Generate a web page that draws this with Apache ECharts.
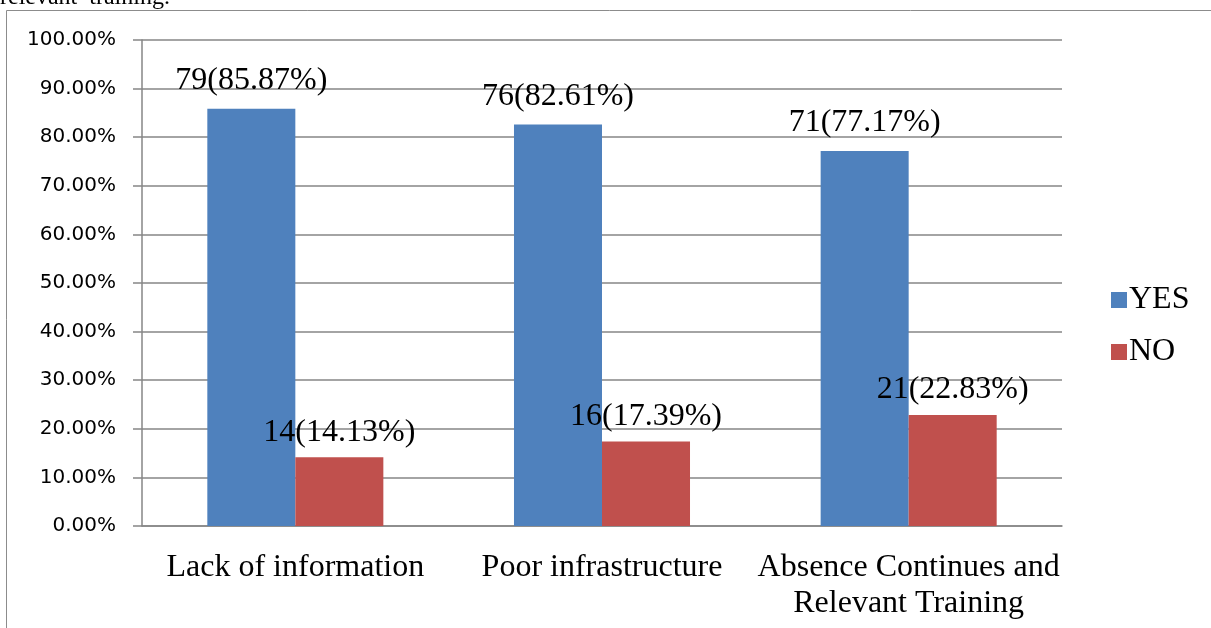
<!DOCTYPE html>
<html>
<head>
<meta charset="utf-8">
<script src="https://cdn.jsdelivr.net/npm/echarts@6/dist/echarts.min.js"></script>
<style>html,body{margin:0;padding:0;background:#fff;}#c{width:1211px;height:628px;}</style>
</head>
<body>
<div id="c"></div>
<script>
var categories = ['Lack of information', 'Poor infrastructure', 'Absence Continues and\nRelevant Training'];
var yesPct = [85.87, 82.61, 77.17];
var noPct = [14.13, 17.39, 22.83];
var yesCount = [79, 76, 71];
var noCount = [14, 16, 21];
var seriesNames = ['YES', 'NO'];

var chart = echarts.init(document.getElementById('c'), null, {renderer: 'canvas'});
var serif = '"Liberation Serif", "Times New Roman", serif';
var sans = '"DejaVu Sans", "Liberation Sans", sans-serif';
chart.setOption({
  animation: false,
  backgroundColor: '#fff',
  graphic: [
    {type: 'rect', shape: {x: 6.5, y: 10.5, width: 1220, height: 640}, style: {fill: 'none', stroke: '#8c8c8c', lineWidth: 1}},
    {type: 'text', left: 0, top: -14, style: {text: 'relevant  training.', font: '24px ' + serif, fill: '#000'}}
  ],
  grid: {left: 142, right: 149, top: 40, bottom: 102},
  legend: {
    orient: 'vertical', left: 1106, top: 279, itemWidth: 16, itemHeight: 16, itemGap: 20,
    icon: 'rect',
    textStyle: {fontFamily: serif, fontSize: 32, color: '#000', padding: [0, 0, 0, -3]},
    data: seriesNames
  },
  xAxis: {
    type: 'category', data: categories,
    axisLine: {lineStyle: {color: '#868686', width: 1.5}},
    axisTick: {length: 10, lineStyle: {color: '#868686', width: 1.5}},
    axisLabel: {fontFamily: serif, fontSize: 32, color: '#000', margin: 24, lineHeight: 36, interval: 0}
  },
  yAxis: {
    type: 'value', min: 0, max: 100, interval: 10,
    axisLine: {show: true, lineStyle: {color: '#868686', width: 1.5}},
    axisTick: {show: true, length: 9, lineStyle: {color: '#868686', width: 1.5}},
    splitLine: {lineStyle: {color: '#868686', width: 1.5}},
    axisLabel: {fontFamily: sans, fontSize: 20, color: '#000', margin: 26, formatter: function (v) { return v.toFixed(2) + '%'; }}
  },
  series: [
    {
      name: seriesNames[0], type: 'bar', data: yesPct, barGap: '0%', barCategoryGap: '42.6%',
      itemStyle: {color: '#4f81bd'},
      label: {show: true, position: 'top', distance: 12, fontFamily: serif, fontSize: 32, color: '#000',
        formatter: function (p) { return yesCount[p.dataIndex] + '(' + p.value.toFixed(2) + '%)'; }}
    },
    {
      name: seriesNames[1], type: 'bar', data: noPct,
      itemStyle: {color: '#c0504d'},
      label: {show: true, position: 'top', distance: 9, fontFamily: serif, fontSize: 32, color: '#000',
        formatter: function (p) { return noCount[p.dataIndex] + '(' + p.value.toFixed(2) + '%)'; }}
    }
  ]
});
</script>
</body>
</html>
